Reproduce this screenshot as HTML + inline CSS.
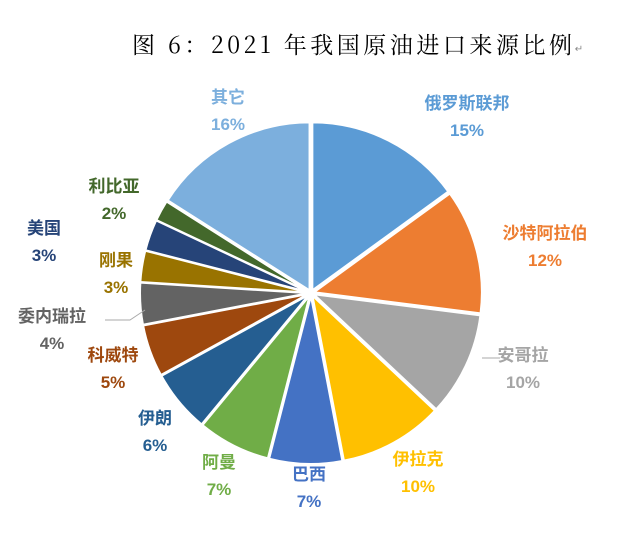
<!DOCTYPE html>
<html><head><meta charset="utf-8"><style>
body{margin:0;background:#fff;}
svg text{font-family:"Liberation Sans","Noto Sans CJK SC",sans-serif;font-weight:bold;font-size:17px;text-anchor:middle;}
</style></head><body>
<svg id="s" width="619" height="537" xmlns="http://www.w3.org/2000/svg">
<text x="132" y="53" textLength="440" lengthAdjust="spacing" style="font-family:'Noto Serif CJK SC','Liberation Serif',serif;font-weight:normal;font-size:23px;text-anchor:start" fill="#000">图 6：2021 年我国原油进口来源比例</text>
<text x="579" y="52" style="font-size:10px;font-weight:normal" fill="#888">↵</text>
<g id="pie"></g>
<g id="lab"></g>
<line x1="482" y1="358" x2="500" y2="358" stroke="#aaa"/>
<polyline points="105,320 130,320 145,310" fill="none" stroke="#aaa"/>
</svg>
<script>
var d=[[15,"#5B9BD5"],[12,"#ED7D31"],[10,"#A5A5A5"],[10,"#FFC000"],[7,"#4472C4"],[7,"#70AD47"],[6,"#255E91"],[5,"#9E480E"],[4,"#636363"],[3,"#997300"],[3,"#264478"],[2,"#43682B"],[16,"#7CAFDD"]];
var cx=311,cy=293,r=168,a=0,h="";
d.forEach(function(s){var a1=a,a2=a+s[0]*3.6;a=a2;
var m=(a1+a2)/2*Math.PI/180,ox=cx+3*Math.sin(m),oy=cy-3*Math.cos(m);
function p(t){t=t*Math.PI/180;return (ox+r*Math.sin(t)).toFixed(2)+","+(oy-r*Math.cos(t)).toFixed(2);}
h+='<path d="M'+ox+','+oy+' L'+p(a1)+' A'+r+','+r+' 0 '+(a2-a1>180?1:0)+' 1 '+p(a2)+' Z" fill="'+s[1]+'" stroke="#fff" stroke-width="2"/>';});
document.getElementById("pie").innerHTML=h;
var L=[["其它","16%",228,103,"#7CAFDD"],["俄罗斯联邦","15%",467,109,"#5B9BD5"],["沙特阿拉伯","12%",545,239,"#ED7D31"],["安哥拉","10%",523,361,"#A5A5A5"],["伊拉克","10%",418,465,"#FFC000"],["巴西","7%",309,480,"#4472C4"],["阿曼","7%",219,468,"#70AD47"],["伊朗","6%",155,424,"#255E91"],["科威特","5%",113,361,"#9E480E"],["委内瑞拉","4%",52,322,"#636363"],["刚果","3%",116,266,"#997300"],["美国","3%",44,234,"#264478"],["利比亚","2%",114,192,"#43682B"]];
var t="";L.forEach(function(l){t+='<text x="'+l[2]+'" y="'+l[3]+'" fill="'+l[4]+'">'+l[0]+'</text><text x="'+l[2]+'" y="'+(l[3]+27)+'" fill="'+l[4]+'">'+l[1]+'</text>';});
document.getElementById("lab").innerHTML=t;
</script>
</body></html>
